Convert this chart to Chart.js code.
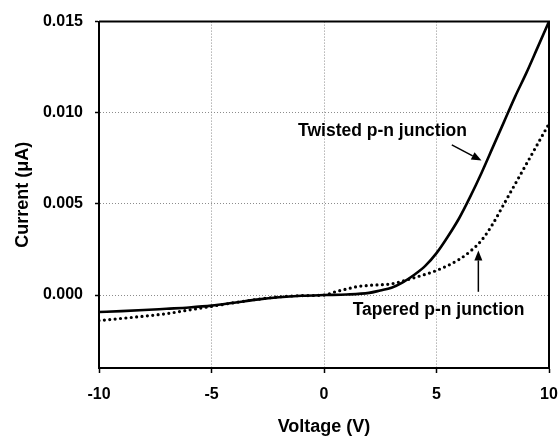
<!DOCTYPE html>
<html>
<head>
<meta charset="utf-8">
<script src="https://cdn.jsdelivr.net/npm/chart.js@4.4.0/dist/chart.umd.min.js"></script>
<style>
  body { margin: 0; background: #fff; }
</style>
</head>
<body>
<canvas id="ivChart" width="560" height="439"></canvas>
<script>
// I-V curves
const twistedV = [-10, -9, -8, -7, -6, -5, -4, -3, -2, -1, 0, 1, 2, 2.5, 3, 3.5, 4, 4.5, 5, 5.5, 6, 6.5, 7, 7.5, 8, 8.5, 9, 9.5, 10];
const twistedI = [-0.00093, -0.00088, -0.00082, -0.00075, -0.00068, -0.00058, -0.00042, -0.00025, -0.00012, -0.00004, 0, 0.00003, 0.00012, 0.00025, 0.0004, 0.0007, 0.0011, 0.0016, 0.0023, 0.0032, 0.0042, 0.0054, 0.0067, 0.0081, 0.0095, 0.0109, 0.0122, 0.0136, 0.0150];

const taperedV = [-10, -9, -8, -7, -6, -5, -4, -3, -2, -1, 0, 0.5, 1, 1.5, 2, 3, 4, 5, 6, 6.5, 7, 7.5, 8, 8.5, 9, 9.5, 10];
const taperedI = [-0.0014, -0.00128, -0.00116, -0.00102, -0.00082, -0.00062, -0.00042, -0.00024, -0.0001, -0.00003, 0, 0.00018, 0.00033, 0.00047, 0.00053, 0.00062, 0.00095, 0.00135, 0.00195, 0.0024, 0.0030, 0.0039, 0.0050, 0.0061, 0.0072, 0.0083, 0.0094];

const xTicks = [-10, -5, 0, 5, 10];
const yTicks = [0, 0.005, 0.010, 0.015];

// annotation text + arrows, in data units
const notes = [
  { text: 'Twisted p-n junction', x: 2.6, y: 0.0090 },
  { text: 'Tapered p-n junction', x: 5.09, y: -0.00082 }
];
const arrows = [
  { from: [5.68, 0.00824], to: [7.0, 0.00738] },
  { from: [6.86, 0.00018], to: [6.86, 0.00245] }
];

const FONT = "'Liberation Sans', Arial, sans-serif";

const toPoints = (xs, ys) => xs.map((v, i) => ({ x: v, y: ys[i] }));

// frame on top/right + labels and arrows
const extras = {
  id: 'extras',
  afterDraw(chart) {
    const { ctx, chartArea: a, scales: { x, y } } = chart;
    ctx.save();
    ctx.strokeStyle = '#000';
    ctx.lineWidth = 2;
    ctx.beginPath();
    ctx.moveTo(a.left, a.top);
    ctx.lineTo(a.right, a.top);
    ctx.lineTo(a.right, a.bottom);
    ctx.stroke();

    ctx.fillStyle = '#000';
    ctx.font = 'bold 17.5px ' + FONT;
    ctx.textAlign = 'center';
    ctx.textBaseline = 'middle';
    notes.forEach(n => ctx.fillText(n.text, x.getPixelForValue(n.x), y.getPixelForValue(n.y)));

    ctx.lineWidth = 1.5;
    arrows.forEach(ar => {
      const x1 = x.getPixelForValue(ar.from[0]), y1 = y.getPixelForValue(ar.from[1]);
      const x2 = x.getPixelForValue(ar.to[0]), y2 = y.getPixelForValue(ar.to[1]);
      const ang = Math.atan2(y2 - y1, x2 - x1);
      const len = 10, half = 4;
      ctx.beginPath();
      ctx.moveTo(x1, y1);
      ctx.lineTo(x2 - len * Math.cos(ang), y2 - len * Math.sin(ang));
      ctx.stroke();
      ctx.beginPath();
      ctx.moveTo(x2, y2);
      ctx.lineTo(x2 - len * Math.cos(ang) + half * Math.sin(ang), y2 - len * Math.sin(ang) - half * Math.cos(ang));
      ctx.lineTo(x2 - len * Math.cos(ang) - half * Math.sin(ang), y2 - len * Math.sin(ang) + half * Math.cos(ang));
      ctx.closePath();
      ctx.fill();
    });
    ctx.restore();
  }
};

const gridColor = edge => c => (c.tick && edge.includes(c.tick.value)) ? 'rgba(0,0,0,0)' : '#8c8c8c';

const ctx = document.getElementById('ivChart').getContext('2d');
new Chart(ctx, {
  type: 'line',
  data: {
    datasets: [
      {
        label: 'Tapered p-n junction',
        data: toPoints(taperedV, taperedI),
        borderColor: '#000',
        borderWidth: 3.2,
        borderDash: [0, 5.4],
        borderCapStyle: 'round',
        pointRadius: 0,
        cubicInterpolationMode: 'monotone'
      },
      {
        label: 'Twisted p-n junction',
        data: toPoints(twistedV, twistedI),
        borderColor: '#000',
        borderWidth: 2.6,
        pointRadius: 0,
        cubicInterpolationMode: 'monotone'
      }
    ]
  },
  options: {
    responsive: false,
    animation: false,
    layout: { padding: { top: 19, right: 11, left: 0, bottom: 0 } },
    plugins: {
      legend: { display: false },
      tooltip: { enabled: false }
    },
    scales: {
      x: {
        type: 'linear',
        min: -10,
        max: 10,
        afterBuildTicks: s => { s.ticks = xTicks.map(v => ({ value: v })); },
        afterFit: s => { s.height = 71; s.paddingLeft = 0; s.paddingRight = 0; },
        ticks: {
          color: '#000',
          padding: 12,
          font: { family: FONT, size: 16, weight: 'bold' },
          callback: v => String(v)
        },
        grid: {
          color: gridColor([-10, 10]),
          lineWidth: 1,
          tickColor: '#000',
          tickLength: 5,
          tickWidth: 1.5,
          tickBorderDash: []
        },
        border: { color: '#000', width: 2, dash: [1, 2] },
        title: {
          display: true,
          text: 'Voltage (V)',
          color: '#000',
          font: { family: FONT, size: 18, weight: 'bold' },
          padding: { top: 2, bottom: 1 }
        }
      },
      y: {
        min: -0.004,
        max: 0.015,
        afterBuildTicks: s => { s.ticks = yTicks.map(v => ({ value: v })); },
        afterFit: s => { s.width = 99; },
        ticks: {
          color: '#000',
          padding: 12,
          font: { family: FONT, size: 16, weight: 'bold' },
          callback: v => v.toFixed(3)
        },
        grid: {
          color: gridColor([0.015]),
          lineWidth: 1,
          tickColor: '#000',
          tickLength: 4,
          tickWidth: 1.5,
          tickBorderDash: []
        },
        border: { color: '#000', width: 2, dash: [1, 2] },
        title: {
          display: true,
          text: 'Current (μA)',
          color: '#000',
          font: { family: FONT, size: 18, weight: 'bold' },
          padding: { top: 12, bottom: 2 }
        }
      }
    }
  },
  plugins: [extras]
});
</script>
</body>
</html>
